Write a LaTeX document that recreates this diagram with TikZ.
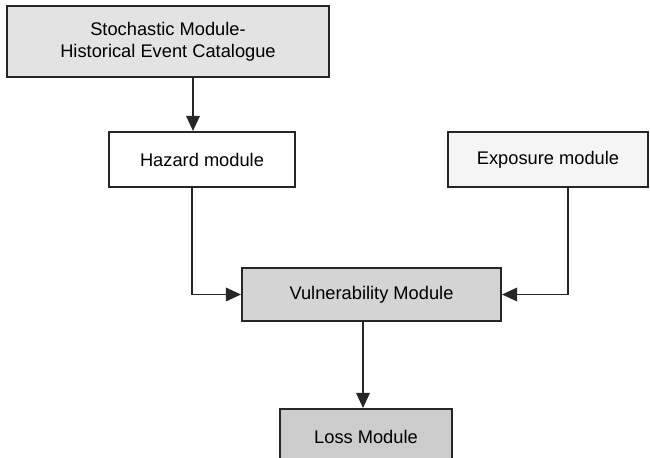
\documentclass[tikz,border=0pt]{standalone}
\usepackage{fontspec}
\setmainfont{Liberation Sans}
\usetikzlibrary{arrows.meta,calc}
\begin{document}
\begin{tikzpicture}[x=0.025cm, y=-0.025cm,
    box/.style = {draw=black!85, line width=1.4pt, align=center, inner sep=0pt,
                  font=\fontsize{13}{15.5}\selectfont, text=black},
    arr/.style = {draw=black!85, line width=1.3pt, -{Triangle[length=0.38cm,width=0.34cm]}}]
  \clip (0,0) rectangle (650,458);
  \fill[white] (0,0) rectangle (650,458);
  \node[box, fill=black!11, minimum width=8.05cm, minimum height=1.775cm] (stoch) at (168,41.5) {Stochastic Module-\\Historical Event Catalogue};
  \node[box, fill=white, minimum width=4.65cm, minimum height=1.375cm] (haz) at (202,159.5) {Hazard module};
  \node[box, fill=black!4, minimum width=5cm, minimum height=1.375cm] (expo) at (548,159.5) {Exposure module};
  \node[box, fill=black!17, minimum width=6.475cm, minimum height=1.325cm] (vul) at (371.5,294.5) {Vulnerability Module};
  \node[box, fill=black!20, minimum width=4.3cm, minimum height=1.375cm] (loss) at (366,436.5) {Loss Module};
  \coordinate (hz) at ($(haz.north)+(-9,0)$);
  \coordinate (hs) at ($(haz.south)+(-10,0)$);
  \coordinate (es) at ($(expo.south)+(20,0)$);
  \coordinate (ln) at ($(loss.north)+(-3,0)$);
  \draw[arr] (stoch.south -| hz) -- (hz);
  \draw[arr] (hs) |- (vul.west);
  \draw[arr] (es) |- (vul.east);
  \draw[arr] (vul.south -| ln) -- (ln);
\end{tikzpicture}
\end{document}
